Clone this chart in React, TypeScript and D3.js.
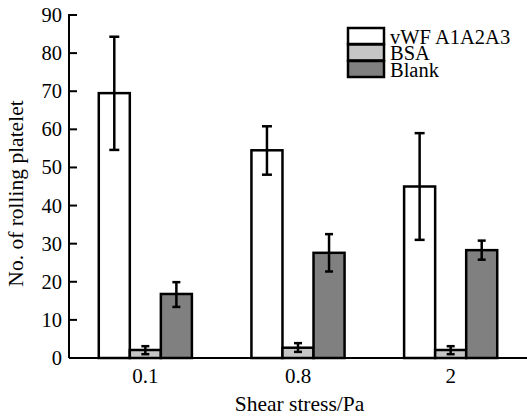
import React from "react";
import * as d3 from "d3";

const groups = ["0.1", "0.8", "2"];
const seriesNames = ["vWF A1A2A3", "BSA", "Blank"];
const seriesColors = ["#ffffff", "#c6c6c6", "#808080"];
const vwfValues = [69.5, 54.5, 45];
const vwfLow = [54.6, 48.1, 31];
const vwfHigh = [84.3, 60.8, 59];
const bsaValues = [2.1, 2.7, 2.1];
const bsaLow = [1.0, 1.6, 1.0];
const bsaHigh = [3.1, 3.9, 3.1];
const blankValues = [16.8, 27.6, 28.3];
const blankLow = [13.4, 22.7, 25.8];
const blankHigh = [19.9, 32.5, 30.8];
const yTicks = [0, 10, 20, 30, 40, 50, 60, 70, 80, 90];

const W = 527, H = 417;
const left = 69, right = 527, top = 15, bottom = 358;
const font = "'Liberation Serif', 'Times New Roman', serif";

export default function App() {
  const x0 = d3.scaleBand().domain(groups).range([left, right]).paddingInner(0.39).paddingOuter(0.195);
  const x1 = d3.scaleBand().domain(seriesNames).range([0, x0.bandwidth()]);
  const y = d3.scaleLinear().domain([0, 90]).range([bottom, top]);
  const vals = [vwfValues, bsaValues, blankValues];
  const lows = [vwfLow, bsaLow, blankLow];
  const highs = [vwfHigh, bsaHigh, blankHigh];

  return (
    <svg width={W} height={H} style={{ position: "absolute", left: 0, top: 0, background: "#fff" }}>
      {groups.map((g, gi) => (
        <g key={g}>
          {seriesNames.map((s, si) => {
            const bx = (x0(g) ?? 0) + (x1(s) ?? 0);
            const bw = x1.bandwidth();
            const v = vals[si][gi];
            const cx = bx + bw / 2;
            const cap = si === 0 ? 5 : 4;
            return (
              <g key={s}>
                <rect x={bx} y={y(v)} width={bw} height={y(0) - y(v)} fill={seriesColors[si]} stroke="#000" strokeWidth={2.5} />
                <line x1={cx} x2={cx} y1={y(lows[si][gi])} y2={y(highs[si][gi])} stroke="#000" strokeWidth={2.5} />
                <line x1={cx - cap} x2={cx + cap} y1={y(highs[si][gi])} y2={y(highs[si][gi])} stroke="#000" strokeWidth={2.5} />
                <line x1={cx - cap} x2={cx + cap} y1={y(lows[si][gi])} y2={y(lows[si][gi])} stroke="#000" strokeWidth={2.5} />
              </g>
            );
          })}
          <text x={(x0(g) ?? 0) + x0.bandwidth() / 2} y={383} textAnchor="middle" fontFamily={font} fontSize={21}>{g}</text>
        </g>
      ))}
      {/* axes */}
      <line x1={left} x2={left} y1={top - 1} y2={bottom} stroke="#000" strokeWidth={2} />
      <line x1={left} x2={right} y1={bottom} y2={bottom} stroke="#000" strokeWidth={2} />
      {yTicks.map((t) => (
        <g key={t}>
          <line x1={left} x2={left + 8} y1={y(t)} y2={y(t)} stroke="#000" strokeWidth={2} />
          <text x={62} y={y(t) + 7} textAnchor="end" fontFamily={font} fontSize={20.5}>{t}</text>
        </g>
      ))}
      <text x={299.5} y={411} textAnchor="middle" fontFamily={font} fontSize={21.5}>Shear stress/Pa</text>
      <text transform={`translate(22.5,193.5) rotate(-90)`} textAnchor="middle" fontFamily={font} fontSize={21.5}>No. of rolling platelet</text>
      {/* legend */}
      {seriesNames.map((s, i) => (
        <g key={s}>
          <rect x={348} y={28 + i * 16.5} width={36} height={16} fill={seriesColors[i]} stroke="#000" strokeWidth={2.5} />
          <text x={390} y={43.5 + i * 16.7} fontFamily={font} fontSize={20.5}>{s}</text>
        </g>
      ))}
    </svg>
  );
}
